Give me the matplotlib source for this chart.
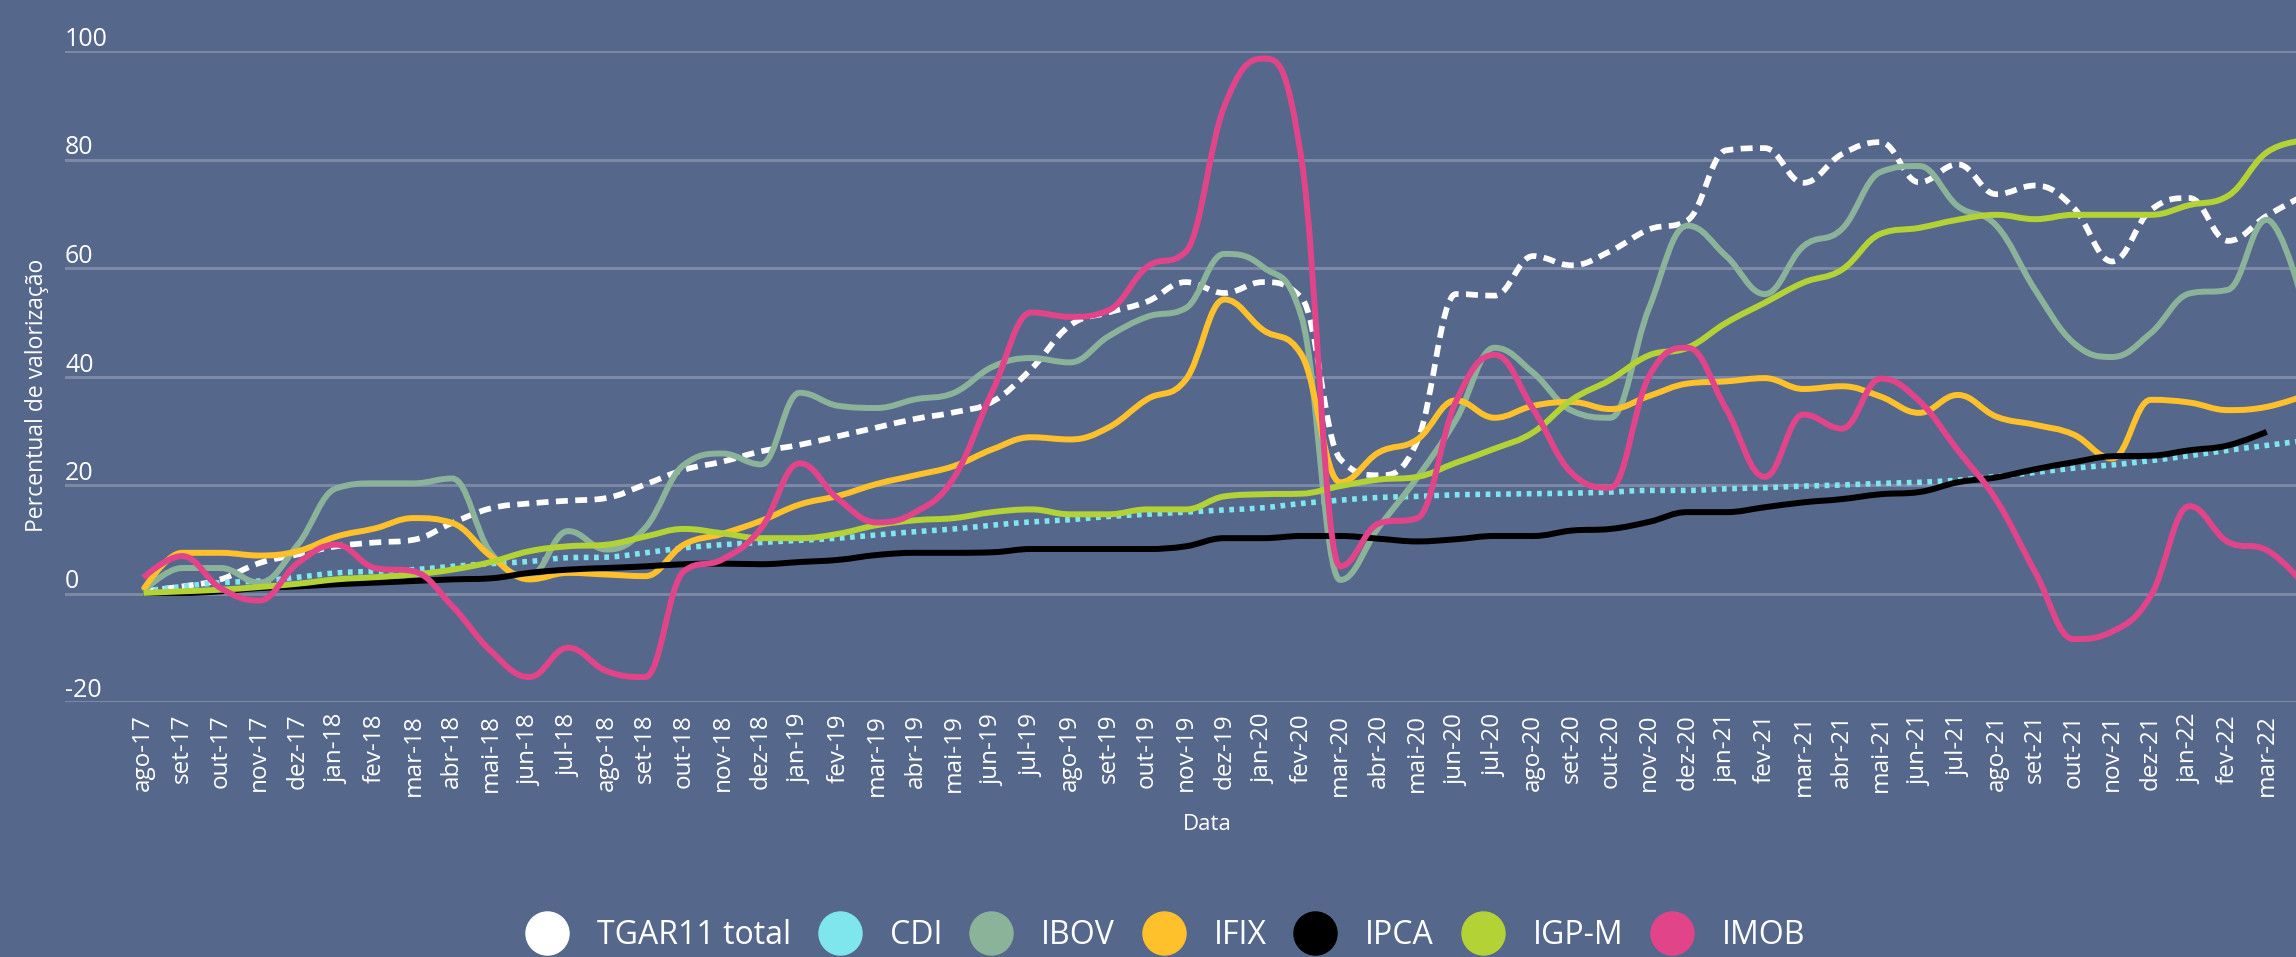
import numpy as np
import matplotlib
matplotlib.use('Agg')
import matplotlib.pyplot as plt
import matplotlib.transforms as mtransforms
from matplotlib.path import Path
from matplotlib.patches import PathPatch
from matplotlib.lines import Line2D

plt.rcParams['font.family'] = ['Open Sans', 'DejaVu Sans']

"""Dados lidos do gráfico (percentual de valorização acumulado, mensal)"""
meses = ['ago-17', 'set-17', 'out-17', 'nov-17', 'dez-17',
         'jan-18', 'fev-18', 'mar-18', 'abr-18', 'mai-18', 'jun-18', 'jul-18', 'ago-18', 'set-18', 'out-18', 'nov-18', 'dez-18',
         'jan-19', 'fev-19', 'mar-19', 'abr-19', 'mai-19', 'jun-19', 'jul-19', 'ago-19', 'set-19', 'out-19', 'nov-19', 'dez-19',
         'jan-20', 'fev-20', 'mar-20', 'abr-20', 'mai-20', 'jun-20', 'jul-20', 'ago-20', 'set-20', 'out-20', 'nov-20', 'dez-20',
         'jan-21', 'fev-21', 'mar-21', 'abr-21', 'mai-21', 'jun-21', 'jul-21', 'ago-21', 'set-21', 'out-21', 'nov-21', 'dez-21',
         'jan-22', 'fev-22', 'mar-22', 'abr-22']

tgar11 = [0.4, 1.3, 2.6, 5.6, 7.2, 8.7, 9.4, 9.9, 13.0, 15.7, 16.6, 17.1, 17.6, 20.1, 22.8, 24.3,
          26.2, 27.4, 29.0, 30.6, 32.2, 33.4, 35.4, 41.4, 49.4, 51.8, 53.8, 57.4, 55.4, 57.4, 54.5,
          24.8, 21.8, 28.1, 55.2, 54.9, 62.2, 60.5, 63.1, 67.1, 68.8, 81.7, 82.1, 75.7, 81.0,
          83.2, 75.8, 79.1, 73.6, 75.2, 71.1, 61.2, 70.7, 72.9, 65.0, 69.6, 73.5]
cdi = [0.4, 1.3, 2.0, 2.3, 3.0, 3.8, 4.1, 4.4, 5.0, 5.5, 5.9, 6.6, 6.7, 7.5, 8.4, 9.0,
       9.4, 9.8, 10.2, 10.8, 11.4, 11.9, 12.6, 13.2, 13.6, 14.2, 14.6, 15.0, 15.4, 15.8, 16.6,
       17.2, 17.7, 17.9, 18.2, 18.3, 18.4, 18.5, 18.7, 19.0, 19.0, 19.3, 19.5, 19.8, 20.0,
       20.3, 20.5, 20.9, 21.6, 22.3, 23.1, 23.7, 24.5, 25.4, 26.4, 27.3, 28.2]
ibov = [0.4, 4.7, 4.7, 2.0, 9.0, 19.4, 20.3, 20.3, 21.2, 7.5, 3.2, 11.5, 8.1, 12.1, 23.7, 25.8,
        23.8, 37.0, 34.6, 34.2, 35.8, 37.0, 41.8, 43.4, 42.6, 47.4, 51.0, 52.6, 62.6, 60.2, 51.0,
        2.5, 12.2, 21.4, 32.0, 45.3, 40.7, 33.7, 32.4, 52.6, 67.8, 62.2, 55.2, 64.0, 67.2,
        77.7, 78.8, 71.4, 67.8, 56.0, 46.2, 43.6, 48.0, 55.3, 56.0, 68.9, 52.0]
ifix = [0.7, 7.5, 7.5, 7.0, 7.8, 10.5, 12.0, 13.9, 13.0, 6.9, 2.6, 3.8, 3.5, 3.2, 9.0, 11.0,
        13.4, 16.4, 18.0, 20.2, 21.8, 23.5, 26.6, 28.8, 28.4, 30.6, 35.8, 39.4, 54.2, 48.6, 44.0,
        20.5, 26.0, 28.4, 35.6, 32.4, 34.6, 35.3, 34.0, 36.4, 38.7, 39.1, 39.7, 37.7, 38.2,
        36.3, 33.3, 36.6, 32.6, 31.1, 29.3, 24.9, 35.7, 35.2, 33.8, 34.4, 36.5]
ipca = [0.1, 0.1, 0.4, 1.0, 1.3, 1.7, 2.0, 2.3, 2.6, 2.8, 3.8, 4.4, 4.7, 5.0, 5.4, 5.5,
        5.4, 5.8, 6.2, 7.1, 7.5, 7.5, 7.6, 8.2, 8.2, 8.2, 8.2, 8.7, 10.2, 10.2, 10.6,
        10.6, 10.1, 9.6, 10.0, 10.6, 10.6, 11.6, 11.9, 13.2, 15.0, 15.0, 15.9, 16.8, 17.4,
        18.3, 18.7, 20.5, 21.4, 22.9, 24.2, 25.3, 25.4, 26.4, 27.3, 29.8]
igpm = [0.1, 0.4, 0.7, 1.2, 1.8, 2.6, 3.0, 3.5, 4.4, 5.8, 7.8, 8.7, 9.0, 10.5, 11.9, 11.1,
        10.2, 10.2, 11.0, 12.6, 13.5, 13.9, 15.0, 15.5, 14.6, 14.6, 15.5, 15.5, 17.9, 18.3, 18.4,
        19.8, 21.0, 21.5, 24.1, 26.7, 29.7, 35.7, 39.4, 43.9, 45.3, 49.9, 53.6, 57.3, 59.7,
        66.3, 67.4, 68.9, 69.8, 69.0, 69.8, 69.8, 69.8, 71.6, 73.3, 81.3, 83.5]
imob = [2.9, 6.9, 1.0, -1.3, 5.6, 9.0, 4.7, 4.1, -2.3, -10.6, -15.4, -10.0, -14.3, -15.4, 4.1, 6.3,
        12.0, 24.0, 17.4, 13.1, 15.0, 21.4, 37.4, 51.8, 51.0, 52.2, 60.2, 63.0, 89.8, 98.6, 80.0,
        5.0, 12.9, 13.9, 35.4, 44.0, 34.0, 22.2, 19.5, 40.0, 45.3, 34.0, 21.5, 33.0, 30.4,
        39.6, 35.5, 26.4, 17.2, 4.0, -8.4, -7.0, -0.4, 16.1, 9.5, 8.0, 1.5]

yticks = [-20, 0, 20, 40, 60, 80, 100]

bg = '#55678a'
grid_cor = '#7c89a6'

# nome, valores, cor, estilo de linha, largura
series = [
    ('TGAR11 total', tgar11, '#ffffff', (0, (2.1, 1.3)), 4.1),
    ('CDI', cdi, '#7fe6ee', (0, (0.85, 1.0)), 4.0),
    ('IBOV', ibov, '#8ab39a', 'solid', 4.3),
    ('IFIX', ifix, '#fec02b', 'solid', 4.3),
    ('IPCA', ipca, '#000000', 'solid', 4.3),
    ('IGP-M', igpm, '#b2d235', 'solid', 4.3),
    ('IMOB', imob, '#e2448a', 'solid', 4.3),
]


def spline_path(xs, ys, smoothing=1.5):
    '''Curva suave no estilo "spline" (pontos de controle de Bezier)'''
    n = len(xs)
    denom = smoothing + 1
    left = [(xs[i], ys[i]) for i in range(n)]
    right = [(xs[i], ys[i]) for i in range(n)]
    for i in range(1, n - 1):
        px, py = xs[i], ys[i]
        lx, ly = xs[i - 1], ys[i - 1]
        nx, ny = xs[i + 1], ys[i + 1]
        lcx = (smoothing * px + lx) / denom
        lcy = (smoothing * py + ly) / denom
        rcx = (smoothing * px + nx) / denom
        rcy = (smoothing * py + ny) / denom
        corr = (rcy - lcy) * (rcx - px) / (rcx - lcx) + py - rcy
        lcy += corr
        rcy += corr
        if lcy > ly and lcy > py:
            lcy = max(ly, py)
            rcy = 2 * py - lcy
        elif lcy < ly and lcy < py:
            lcy = min(ly, py)
            rcy = 2 * py - lcy
        if rcy > ny and rcy > py:
            rcy = max(ny, py)
            lcy = 2 * py - rcy
        elif rcy < ny and rcy < py:
            rcy = min(ny, py)
            lcy = 2 * py - rcy
        left[i] = (lcx, lcy)
        right[i] = (rcx, rcy)
    verts = [(xs[0], ys[0])]
    codes = [Path.MOVETO]
    for i in range(1, n):
        verts += [right[i - 1], left[i], (xs[i], ys[i])]
        codes += [Path.CURVE4] * 3
    return Path(verts, codes)


fig = plt.figure(figsize=(22.96, 9.57), dpi=100, facecolor=bg)
ax = fig.add_axes([65 / 2296, 255 / 957, 1 - 65 / 2296, 651 / 957])
ax.set_facecolor(bg)

for nome, vals, cor, estilo, lw in series:
    xs = np.arange(len(vals), dtype=float)
    caminho = spline_path(xs, np.array(vals, dtype=float))
    ax.add_patch(PathPatch(caminho, facecolor='none', edgecolor=cor, lw=lw,
                           linestyle=estilo, capstyle='butt', joinstyle='round'))

xmax = 55.76
ax.set_xlim(-2.03, xmax)
ax.set_ylim(-20, 100)

'''Eixos e grade'''
for s in ax.spines.values():
    s.set_visible(False)
ax.set_yticks(yticks)
ax.set_yticklabels([])
ax.yaxis.grid(True, color=grid_cor, lw=2.2)
ax.set_axisbelow(True)
ax.tick_params(axis='both', length=0)
# o último mês (abr-22) fica fora da área visível, sem rótulo
pos = [i for i in range(len(meses)) if i < xmax - 0.5]
ax.set_xticks(pos)
ax.set_xticklabels([meses[i] for i in pos], rotation=90, color='white', fontsize=17.5)
ax.tick_params(axis='x', pad=8.5)

trans = mtransforms.blended_transform_factory(ax.transAxes, ax.transData)
trans = mtransforms.offset_copy(trans, fig=fig, x=0, y=5, units='dots')
for v in yticks:
    ax.text(0, v, str(v), transform=trans, color='white', fontsize=18,
            ha='left', va='baseline')

fig.text(1207 / 2296, 1 - 824 / 957, 'Data', color='white', fontsize=16,
         ha='center', va='center')
fig.text(37 / 2296, 1 - 395 / 957, 'Percentual de valorização', color='white',
         fontsize=16.5, rotation=90, ha='center', va='center')

'''Legenda'''
handles = [Line2D([], [], marker='o', linestyle='none', markersize=31,
                  markerfacecolor=cor, markeredgecolor=cor)
           for nome, vals, cor, estilo, lw in series]
labels = [nome for nome, vals, cor, estilo, lw in series]
fig.legend(handles, labels, loc='center', bbox_to_anchor=(1166 / 2296, 1 - 936 / 957),
           ncol=7, frameon=False, fontsize=23, handlelength=1.3, handletextpad=0.91,
           columnspacing=0.88, labelcolor='white', borderpad=0)

fig.savefig('out.png', dpi=100, facecolor=bg)
